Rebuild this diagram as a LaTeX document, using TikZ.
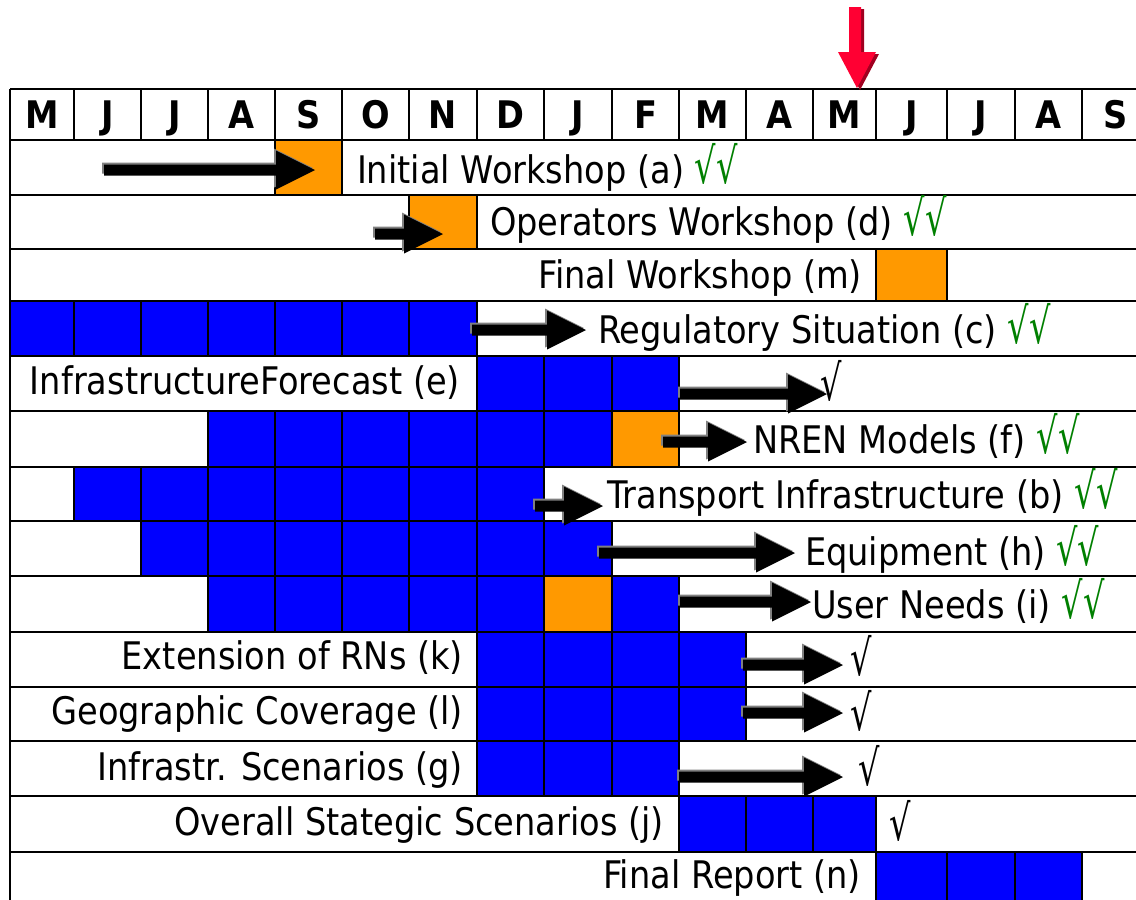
\documentclass[tikz,border=0pt]{standalone}
\usepackage{fontspec}
\usepackage{graphicx}
\setmainfont{DejaVu Sans}[FakeStretch=0.885]

\definecolor{cellblue}{RGB}{0,0,255}
\definecolor{cellorange}{RGB}{255,153,0}
\definecolor{ckgreen}{RGB}{0,128,0}
\definecolor{markred}{RGB}{255,0,51}
\definecolor{markdark}{RGB}{160,0,32}
\definecolor{edgegrey}{RGB}{128,128,128}

% column and row boundaries of the chart grid
\def\colx{{10,74,141,208,275,342,409,477,544,612,679,746,813,876,947,1015,1082,1149}}
\def\rowy{{89,140,195,249,301,356,411,467,521,576,632,687,741,796,852,907}}

\tikzset{
  cellline/.style={draw=black, line width=2},
  rowline/.style={draw=black, line width=2.2},
  headline/.style={draw=black, line width=2.8},
  tasktext/.style={font=\fontsize{38}{40}\selectfont, inner sep=0, outer sep=0},
  monthtext/.style={font=\bfseries\fontsize{38}{40}\selectfont, inner sep=0, outer sep=0},
}

% a run of filled month cells: colour, row, first column, last column
\newcommand\cellrun[4]{%
  \foreach \ci in {#3,...,#4}{%
    \pgfmathsetmacro\xa{\colx[\ci]}%
    \pgfmathsetmacro\xb{\colx[\ci+1]}%
    \pgfmathsetmacro\ya{\rowy[#2]}%
    \pgfmathsetmacro\yb{\rowy[#2+1]}%
    \filldraw[fill=#1, cellline] (\xa,\ya) rectangle (\xb,\yb);
  }}

% block arrow with a grey edge: start x, tip x, centre y
\newcommand\blockarrow[3]{%
  \fill[edgegrey, shift={(-2,-2)}] (#1,#3-5.5) -- (#2-39,#3-5.5) -- (#2-39,#3-19.5) -- (#2,#3)
     -- (#2-39,#3+19.5) -- (#2-39,#3+5.5) -- (#1,#3+5.5) -- cycle;
  \fill[black] (#1,#3-5.5) -- (#2-39,#3-5.5) -- (#2-39,#3-19.5) -- (#2,#3)
     -- (#2-39,#3+19.5) -- (#2-39,#3+5.5) -- (#1,#3+5.5) -- cycle;}

% tall radical tick
\newcommand\tick{\scalebox{1}[1.3]{√}}
\newcommand\donemark{\textcolor{ckgreen}{\tick\tick}}

\begin{document}
\begin{tikzpicture}[x=1pt,y=-1pt]
\clip (0,0) rectangle (1136,900);
\fill[white] (0,0) rectangle (1136,900);

% task bars
\cellrun{cellorange}{1}{4}{4}
\cellrun{cellorange}{2}{6}{6}
\cellrun{cellorange}{3}{13}{13}
\cellrun{cellblue}{4}{0}{6}
\cellrun{cellblue}{5}{7}{9}
\cellrun{cellblue}{6}{3}{8}
\cellrun{cellorange}{6}{9}{9}
\cellrun{cellblue}{7}{1}{7}
\cellrun{cellblue}{8}{2}{8}
\cellrun{cellblue}{9}{3}{7}
\cellrun{cellorange}{9}{8}{8}
\cellrun{cellblue}{9}{9}{9}
\cellrun{cellblue}{10}{7}{10}
\cellrun{cellblue}{11}{7}{10}
\cellrun{cellblue}{12}{7}{9}
\cellrun{cellblue}{13}{10}{12}
\cellrun{cellblue}{14}{13}{15}

% row separators
\foreach \r in {2,...,14}{%
  \pgfmathsetmacro\yy{\rowy[\r]}%
  \draw[rowline] (10,\yy) -- (1150,\yy);}

% month header
\draw[headline] (10,89) -- (1150,89);
\draw[headline] (10,140) -- (1150,140);
\foreach \ci in {1,...,16}{%
  \pgfmathsetmacro\xa{\colx[\ci]}%
  \draw[rowline] (\xa,89) -- (\xa,140);}
\draw[headline] (10,89) -- (10,900);
\foreach \m [count=\i from 0] in {M,J,J,A,S,O,N,D,J,F,M,A,M,J,J,A,S}{%
  \pgfmathsetmacro\xa{\colx[\i]}%
  \pgfmathsetmacro\xb{\colx[\i+1]}%
  \pgfmathsetmacro\xc{(\xa+\xb)/2}%
  \node[monthtext, anchor=base] (h\i) at (\xc,128) {\m};}

% progress arrows
\blockarrow{104}{315}{170}
\blockarrow{375}{443}{234}
\blockarrow{472}{586}{330}
\blockarrow{680}{827}{394}
\blockarrow{663}{747}{442}
\blockarrow{535}{603}{506}
\blockarrow{599}{795}{553}
\blockarrow{680}{811}{602}
\blockarrow{743}{843}{665}
\blockarrow{743}{843}{713}
\blockarrow{679}{843}{777}

% task names
\node[tasktext, anchor=base west] (t1) at (357,183) {Initial Workshop (a) \donemark};
\node[tasktext, anchor=base west] (t2) at (490,235) {Operators Workshop (d) \donemark};
\node[tasktext, anchor=base east] (t3) at (862,288) {Final Workshop (m)};
\node[tasktext, anchor=base west] (t4) at (598,343) {Regulatory Situation (c) \donemark};
\node[tasktext, anchor=base west] (t5) at (30,394) {InfrastructureForecast (e)};
\node[tasktext, anchor=base west] (t6) at (753,453) {NREN Models (f) \donemark};
\node[tasktext, anchor=base west] (t7) at (607,508) {Transport Infrastructure (b) \donemark};
\node[tasktext, anchor=base west] (t8) at (805,565) {Equipment (h) \donemark};
\node[tasktext, anchor=base west] (t9) at (812,618) {User Needs (i) \donemark};
\node[tasktext, anchor=base east] (t10) at (463,669) {Extension of RNs (k)};
\node[tasktext, anchor=base east] (t11) at (463,724) {Geographic Coverage (l)};
\node[tasktext, anchor=base east] (t12) at (463,780) {Infrastr. Scenarios (g)};
\node[tasktext, anchor=base east] (t13) at (664,835) {Overall Stategic Scenarios (j)};
\node[tasktext, anchor=base east] (t14) at (861,888) {Final Report (n)};

% single ticks
\node[tasktext, anchor=base west] (k5) at (820,400) {\tick};
\node[tasktext, anchor=base west] (k10) at (850,675) {\tick};
\node[tasktext, anchor=base west] (k11) at (850,730) {\tick};
\node[tasktext, anchor=base west] (k12) at (858,785) {\tick};
\node[tasktext, anchor=base west] (k13) at (889,840) {\tick};

% current-month marker
\fill[markdark, shift={(3,2)}] (849,7) -- (861,7) -- (861,52) -- (876,52) -- (857,88)
  -- (838,52) -- (849,52) -- cycle;
\fill[markred] (849,7) -- (861,7) -- (861,52) -- (876,52) -- (857,88)
  -- (838,52) -- (849,52) -- cycle;
\end{tikzpicture}
\end{document}
